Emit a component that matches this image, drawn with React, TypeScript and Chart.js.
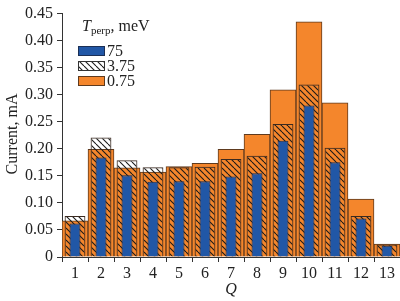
import React, { useEffect, useRef } from "react";
import { Chart, registerables } from "chart.js";

Chart.register(...registerables);

const categories = ["1", "2", "3", "4", "5", "6", "7", "8", "9", "10", "11", "12", "13"];
const current75 = [0.062, 0.184, 0.151, 0.139, 0.14, 0.14, 0.149, 0.155, 0.215, 0.28, 0.175, 0.071, 0.021];
const current375 = [0.076, 0.221, 0.179, 0.166, 0.166, 0.167, 0.181, 0.187, 0.246, 0.319, 0.202, 0.076, 0.023];
const current075 = [0.067, 0.199, 0.165, 0.157, 0.167, 0.173, 0.199, 0.227, 0.309, 0.435, 0.285, 0.107, 0.024];
const legendLabels = ["75", "3.75", "0.75"];
const yTicks = [0, 0.05, 0.1, 0.15, 0.2, 0.25, 0.3, 0.35, 0.4, 0.45];

const BLUE = "#2157a6";
const BLUE_BORDER = "#1b2f55";
const ORANGE = "#f4862c";
const ORANGE_BORDER = "#5e3a1e";
const HATCH_BORDER = "#3a2a20";
const FONT = '"Liberation Serif", "Times New Roman", serif';

function makeHatch(): CanvasPattern | string {
  const s = 6;
  const pc = document.createElement("canvas");
  pc.width = s;
  pc.height = s;
  const c = pc.getContext("2d");
  if (!c) return "rgba(0,0,0,0)";
  c.strokeStyle = "#1a1a1a";
  c.lineWidth = 1.1;
  for (const x0 of [-s, 0, s]) {
    c.beginPath();
    c.moveTo(x0, 0);
    c.lineTo(x0 + s, s);
    c.stroke();
  }
  const p = c.createPattern(pc, "repeat");
  return p || "rgba(0,0,0,0)";
}

export default function App() {
  const ref = useRef<HTMLCanvasElement | null>(null);

  useEffect(() => {
    if (!ref.current) return;
    const hatch = makeHatch();

    const overlay = {
      id: "overlay",
      afterDraw(chart: any) {
        const ctx = chart.ctx as CanvasRenderingContext2D;
        ctx.save();
        ctx.fillStyle = "#222";
        // y title
        ctx.translate(13, 134);
        ctx.rotate(-Math.PI / 2);
        ctx.textAlign = "center";
        ctx.textBaseline = "middle";
        ctx.font = `16px ${FONT}`;
        ctx.fillText("Current, mA", 0, 0);
        ctx.restore();

        ctx.save();
        ctx.fillStyle = "#222";
        ctx.textAlign = "center";
        ctx.textBaseline = "middle";
        ctx.font = `italic 16px ${FONT}`;
        ctx.fillText("Q", 231, 290);

        // legend title
        ctx.textAlign = "left";
        ctx.textBaseline = "alphabetic";
        let x = 82;
        ctx.font = `italic 16px ${FONT}`;
        ctx.fillText("T", x, 31);
        x += ctx.measureText("T").width;
        ctx.font = `11px ${FONT}`;
        ctx.fillText("perp", x, 34);
        x += ctx.measureText("perp").width;
        ctx.font = `16px ${FONT}`;
        ctx.fillText(", meV", x, 31);

        // legend rows
        const fills: (string | CanvasPattern)[] = [BLUE, hatch, ORANGE];
        const borders = [BLUE_BORDER, "#333", ORANGE_BORDER];
        const bgs = [BLUE, "#ffffff", ORANGE];
        legendLabels.forEach((lab, i) => {
          const y = 46 + i * 15;
          ctx.fillStyle = bgs[i];
          ctx.fillRect(78, y, 27, 10);
          ctx.fillStyle = fills[i] as any;
          ctx.fillRect(78, y, 27, 10);
          ctx.strokeStyle = borders[i];
          ctx.lineWidth = 1;
          ctx.strokeRect(78.5, y + 0.5, 26, 9);
          ctx.fillStyle = "#222";
          ctx.font = `16px ${FONT}`;
          ctx.textBaseline = "middle";
          ctx.fillText(lab, 107, y + 5.5);
        });
        ctx.restore();
      },
    };

    const chart = new Chart(ref.current, {
      type: "bar",
      data: {
        labels: categories,
        datasets: [
          {
            label: legendLabels[0],
            data: current75,
            backgroundColor: BLUE,
            borderColor: BLUE_BORDER,
            borderWidth: 1,
            grouped: false,
            barPercentage: 0.42,
            categoryPercentage: 1,
            order: 0,
          } as any,
          {
            label: legendLabels[1],
            data: current375,
            backgroundColor: hatch as any,
            borderColor: HATCH_BORDER,
            borderWidth: 1,
            grouped: false,
            barPercentage: 0.8,
            categoryPercentage: 1,
            order: 1,
          } as any,
          {
            label: legendLabels[2],
            data: current075,
            backgroundColor: ORANGE,
            borderColor: ORANGE_BORDER,
            borderWidth: 1,
            grouped: false,
            barPercentage: 1,
            categoryPercentage: 1,
            order: 2,
          } as any,
        ],
      },
      options: {
        responsive: false,
        animation: false,
        layout: { padding: { top: 11, right: 0, left: 0, bottom: 0 } },
        plugins: { legend: { display: false }, tooltip: { enabled: false } },
        scales: {
          x: {
            grid: { drawOnChartArea: false, drawTicks: true, tickLength: 5, color: "#333" },
            border: { display: true, color: "#333", width: 1 },
            ticks: { color: "#222", font: { family: FONT, size: 16 }, padding: 2, maxRotation: 0, autoSkip: false },
            afterFit: (s: any) => {
              s.height = 44;
            },
          },
          y: {
            min: 0,
            max: 0.45,
            grid: { drawOnChartArea: false, drawTicks: true, tickLength: 5, color: "#333" },
            border: { display: true, color: "#333", width: 1 },
            afterBuildTicks: (s: any) => {
              s.ticks = yTicks.map((v) => ({ value: v }));
            },
            ticks: {
              color: "#222",
              font: { family: FONT, size: 16 },
              padding: 4,
              callback: (v: any) => (Number(v) === 0 ? "0" : Number(v).toFixed(2)),
            },
            afterFit: (s: any) => {
              s.width = 62;
            },
          },
        },
      },
      plugins: [overlay],
    });
    return () => chart.destroy();
  }, []);

  return (
    <div style={{ position: "absolute", left: 0, top: 0, width: 400, height: 301, background: "#fff" }}>
      <canvas ref={ref} width={400} height={301} />
    </div>
  );
}
